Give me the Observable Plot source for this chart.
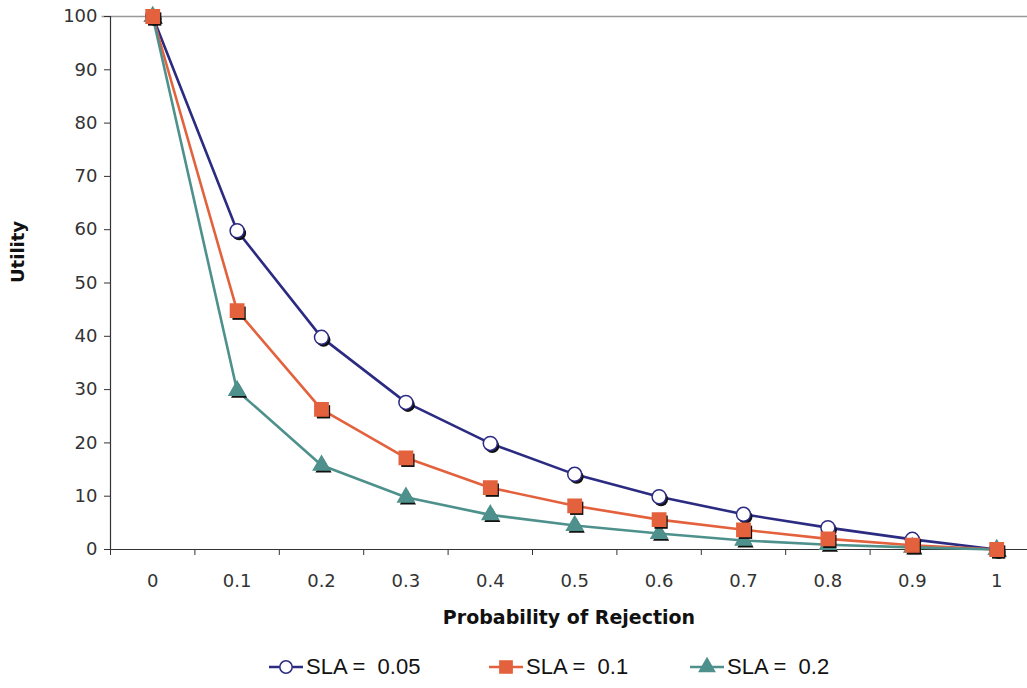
<!DOCTYPE html>
<html><head><meta charset="utf-8">
<script src="https://cdn.jsdelivr.net/npm/d3@7"></script>
<script src="https://cdn.jsdelivr.net/npm/@observablehq/plot@0.6"></script>
<style>
body{margin:0;background:#fff;font-family:"Liberation Sans",Arial,sans-serif}
#legend{position:relative;height:53px;width:1027px}
.item{position:absolute;top:19px;display:flex;align-items:center}
.item span{white-space:pre;font-size:22px;color:#111;margin-left:2px}
</style>
</head><body><div id="chart"></div><div id="legend"></div>
<script>
const probabilities = [0, 0.1, 0.2, 0.3, 0.4, 0.5, 0.6, 0.7, 0.8, 0.9, 1];
const sla005 = [100, 59.8, 39.8, 27.6, 19.9, 14.1, 9.9, 6.6, 4.1, 1.9, 0];
const sla01 = [100, 44.8, 26.3, 17.2, 11.6, 8.2, 5.6, 3.7, 2.0, 0.8, 0];
const sla02 = [100, 29.8, 15.8, 9.8, 6.5, 4.5, 3.0, 1.7, 0.9, 0.4, 0];
const seriesNames = ["SLA =  0.05", "SLA =  0.1", "SLA =  0.2"];
const colors = ["#2c2b82", "#e3623d", "#4e918c"];
const symbols = ["circle", "square", "triangle"];
const yTicks = [0, 10, 20, 30, 40, 50, 60, 70, 80, 90, 100];

const seriesValues = [sla005, sla01, sla02];
const data = [];
seriesNames.forEach((name, i) => {
  probabilities.forEach((p, j) => data.push({series: name, p, u: seriesValues[i][j]}));
});
const boundaries = probabilities.slice(0, -1).map(p => +(p - 0.05).toFixed(2));
const sizes = {circle: 7, square: 7.5, triangle: 6};
const markSeries = (i) => {
  const rows = data.filter(d => d.series === seriesNames[i]);
  const r = sizes[symbols[i]];
  return [
    Plot.dot(rows, {x: "p", y: "u", symbol: symbols[i], fill: "#111", r, dx: 2, dy: 2.5}),
    Plot.dot(rows, {x: "p", y: "u", symbol: symbols[i], fill: i === 0 ? "#fff" : colors[i], stroke: colors[i], strokeWidth: 1.5, r})
  ];
};

const W = 1027, H = 635;
const tickFont = '"DejaVu Sans", sans-serif';
const chart = Plot.plot({
  width: W, height: H,
  marginLeft: 110, marginRight: 0, marginTop: 16, marginBottom: H - 549,
  style: {fontFamily: tickFont, fontSize: "18px", color: "#333", background: "#fff"},
  x: {domain: [-0.05, 1.05], range: [110, 1038.4]},
  y: {domain: [0, 100], range: [549, 16]},
  marks: [
    Plot.ruleY([100], {stroke: "#999", strokeWidth: 1.5, x1: -0.06, x2: 1.05}),
    Plot.axisY({ticks: yTicks, tickSize: 6, tickPadding: 7, stroke: "#333", fontSize: 18, label: null}),
    Plot.axisX({ticks: boundaries, tickSize: 6, tickFormat: () => "", stroke: "#333", label: null}),
    Plot.axisX({ticks: probabilities, tickSize: 0, tickPadding: 25, tickFormat: d => String(d), fontSize: 18, label: null}),
    Plot.ruleX([-0.05], {y1: 0, y2: 100, stroke: "#333", strokeWidth: 1.2}),
    Plot.ruleY([0], {stroke: "#333", strokeWidth: 1.2}),
    Plot.line(data, {x: "p", y: "u", z: "series", stroke: d => colors[seriesNames.indexOf(d.series)], strokeWidth: 2.6}),
    ...markSeries(0), ...markSeries(2), ...markSeries(1),
    Plot.text(["Probability of Rejection"], {frameAnchor: "bottom", dy: 74, fontSize: 19, fontWeight: "bold", fill: "#111", fontFamily: tickFont}),
    Plot.text(["Utility"], {frameAnchor: "left", dx: -92, rotate: -90, fontSize: 18, fontWeight: "bold", fill: "#111", fontFamily: tickFont})
  ]
});
document.getElementById("chart").appendChild(chart);

const legend = document.getElementById("legend");
const lefts = [268, 488, 689];
seriesNames.forEach((name, i) => {
  const item = document.createElement("div");
  item.className = "item";
  item.style.left = lefts[i] + "px";
  const svg = d3.create("svg").attr("width", 36).attr("height", 20);
  svg.append("line").attr("x1", 1).attr("x2", 35).attr("y1", 10).attr("y2", 10)
    .attr("stroke", colors[i]).attr("stroke-width", 2.6);
  const sym = [d3.symbolCircle, d3.symbolSquare, d3.symbolTriangle][i];
  svg.append("path").attr("d", d3.symbol(sym, [120, 150, 100][i])).attr("transform", "translate(18,10)")
    .attr("fill", i === 0 ? "#fff" : colors[i]).attr("stroke", colors[i]).attr("stroke-width", 1.5);
  item.appendChild(svg.node());
  const span = document.createElement("span");
  span.textContent = name;
  item.appendChild(span);
  legend.appendChild(item);
});
</script>
</body></html>
